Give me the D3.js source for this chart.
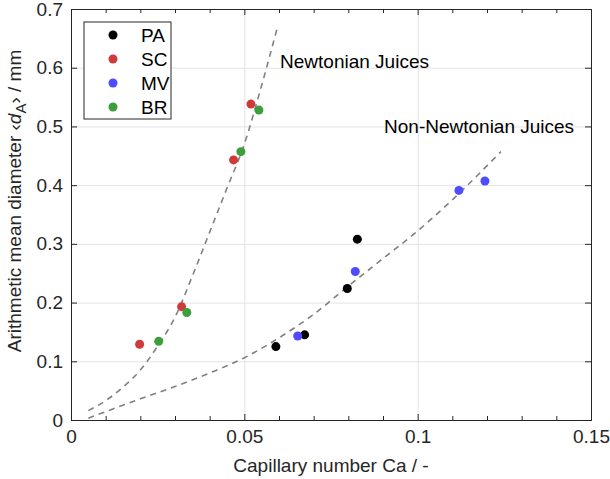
<!DOCTYPE html>
<html>
<head>
<meta charset="utf-8">
<script src="https://cdn.jsdelivr.net/npm/d3@7"></script>
<style>
  body { margin: 0; background: #fff; }
  svg { font-family: "Liberation Sans", Arial, sans-serif; }
  .axis path, .axis line { stroke: #262626; }
  .axis text { fill: #262626; font-size: 19px; }
  .grid line { stroke: #e3e3e3; }
  .grid path { display: none; }
</style>
</head>
<body>
<div id="chart"></div>
<script>
// data
var groups = ["PA", "SC", "MV", "BR"];
var colors = ["#000000", "#d03a3a", "#4d4dff", "#3c9e3c"];

var caPA = [0.0591, 0.0674, 0.0797, 0.0826];
var dPA  = [0.125, 0.145, 0.224, 0.308];
var caSC = [0.0198, 0.0319, 0.0469, 0.0519];
var dSC  = [0.129, 0.193, 0.443, 0.538];
var caMV = [0.0654, 0.0820, 0.1119, 0.1194];
var dMV  = [0.143, 0.253, 0.391, 0.407];
var caBR = [0.0253, 0.0334, 0.0490, 0.0542];
var dBR  = [0.134, 0.183, 0.457, 0.528];

// dashed trend curves
var newtCa = [0.005, 0.010, 0.015, 0.020, 0.025, 0.030, 0.035, 0.040, 0.045, 0.050, 0.055, 0.0595];
var newtD  = [0.016, 0.033, 0.056, 0.085, 0.126, 0.175, 0.245, 0.320, 0.395, 0.470, 0.570, 0.668];
var nonCa  = [0.005, 0.020, 0.030, 0.040, 0.050, 0.060, 0.070, 0.080, 0.090, 0.100, 0.110, 0.124];
var nonD   = [0.003, 0.036, 0.057, 0.080, 0.106, 0.140, 0.180, 0.228, 0.275, 0.322, 0.375, 0.457];

var xTicks = [0, 0.05, 0.1, 0.15];
var yTicks = [0, 0.1, 0.2, 0.3, 0.4, 0.5, 0.6, 0.7];

var W = 610, H = 479;
var margin = { top: 9, right: 19, bottom: 59, left: 71 },
  width = W - margin.left - margin.right,
  height = H - margin.top - margin.bottom;

var svg = d3.select("#chart").append("svg")
  .attr("width", W)
  .attr("height", H);

var g = svg.append("g")
  .attr("transform", "translate(" + margin.left + "," + margin.top + ")");

var x = d3.scaleLinear().domain([0, 0.15]).range([0, width]);
var y = d3.scaleLinear().domain([0, 0.7]).range([height, 0]);

// grid
g.append("g").attr("class", "grid")
  .attr("transform", "translate(0," + height + ")")
  .call(d3.axisBottom(x).tickValues(xTicks.slice(1, -1)).tickSize(-height).tickFormat(""));
g.append("g").attr("class", "grid")
  .call(d3.axisLeft(y).tickValues(yTicks.slice(1, -1)).tickSize(-width).tickFormat(""));

// minor ticks on x (top and bottom)
var minor = d3.range(0.01, 0.15, 0.01).filter(function(v) {
  return Math.abs(v / 0.05 - Math.round(v / 0.05)) > 1e-6;
});
g.append("g").attr("class", "axis")
  .attr("transform", "translate(0," + height + ")")
  .call(d3.axisBottom(x).tickValues(minor).tickSize(-4).tickFormat(""))
  .select(".domain").remove();
g.append("g").attr("class", "axis")
  .call(d3.axisTop(x).tickValues(minor).tickSize(-4).tickFormat(""))
  .select(".domain").remove();

// main axes, ticks inward
g.append("g").attr("class", "axis")
  .attr("transform", "translate(0," + height + ")")
  .call(d3.axisBottom(x).tickValues(xTicks).tickSize(-6).tickPadding(10)
    .tickFormat(function(d) { return d3.format("")(+d.toFixed(2)); }));
g.append("g").attr("class", "axis")
  .call(d3.axisTop(x).tickValues(xTicks).tickSize(-6).tickFormat(""));
g.append("g").attr("class", "axis")
  .call(d3.axisLeft(y).tickValues(yTicks).tickSize(-6).tickPadding(8)
    .tickFormat(function(d) { return d3.format("")(+d.toFixed(1)); }));
g.append("g").attr("class", "axis")
  .attr("transform", "translate(" + width + ",0)")
  .call(d3.axisRight(y).tickValues(yTicks).tickSize(-6).tickFormat(""));

// dashed curves
var line = d3.line()
  .curve(d3.curveMonotoneX)
  .x(function(d) { return x(d[0]); })
  .y(function(d) { return y(d[1]); });

[[newtCa, newtD], [nonCa, nonD]].forEach(function(c) {
  g.append("path")
    .datum(c[0].map(function(v, i) { return [v, c[1][i]]; }))
    .attr("fill", "none")
    .attr("stroke", "#808080")
    .attr("stroke-width", 1.6)
    .attr("stroke-dasharray", "6,5")
    .attr("d", line);
});

// points
var series = [[caPA, dPA], [caSC, dSC], [caMV, dMV], [caBR, dBR]];
series.forEach(function(s, k) {
  g.append("g").selectAll("circle")
    .data(s[0].map(function(v, i) { return [v, s[1][i]]; }))
    .enter().append("circle")
    .attr("cx", function(d) { return x(d[0]); })
    .attr("cy", function(d) { return y(d[1]); })
    .attr("r", 4.5)
    .attr("fill", colors[k]);
});

// annotations
g.append("text")
  .attr("x", x(0.0603)).attr("y", y(0.6))
  .attr("font-size", 19).attr("fill", "#000")
  .text("Newtonian Juices");
g.append("text")
  .attr("x", x(0.0903)).attr("y", y(0.488))
  .attr("font-size", 19).attr("fill", "#000")
  .text("Non-Newtonian Juices");

// legend
var leg = svg.append("g").attr("transform", "translate(84,22)");
leg.append("rect")
  .attr("width", 87).attr("height", 97)
  .attr("fill", "#fff").attr("stroke", "#262626").attr("stroke-width", 1);
groups.forEach(function(name, i) {
  var row = leg.append("g").attr("transform", "translate(0," + (13 + i * 24) + ")");
  row.append("circle").attr("cx", 29).attr("cy", 0).attr("r", 4.5).attr("fill", colors[i]);
  row.append("text").attr("x", 57).attr("y", 0).attr("dy", "0.35em")
    .attr("font-size", 19).attr("fill", "#000").text(name);
});

// axis labels
svg.append("text")
  .attr("x", margin.left + width / 2).attr("y", 472)
  .attr("text-anchor", "middle").attr("font-size", 19).attr("fill", "#262626")
  .text("Capillary number Ca / -");

var yl = svg.append("text")
  .attr("transform", "translate(21,201) rotate(-90)")
  .attr("text-anchor", "middle").attr("font-size", 19).attr("fill", "#262626");
yl.append("tspan").text("Arithmetic mean diameter \u2039");
yl.append("tspan").attr("font-style", "italic").text("d");
yl.append("tspan").attr("font-size", 15).attr("dy", 5).text("A");
yl.append("tspan").attr("dy", -5).text("\u203A / mm");
</script>
</body>
</html>
